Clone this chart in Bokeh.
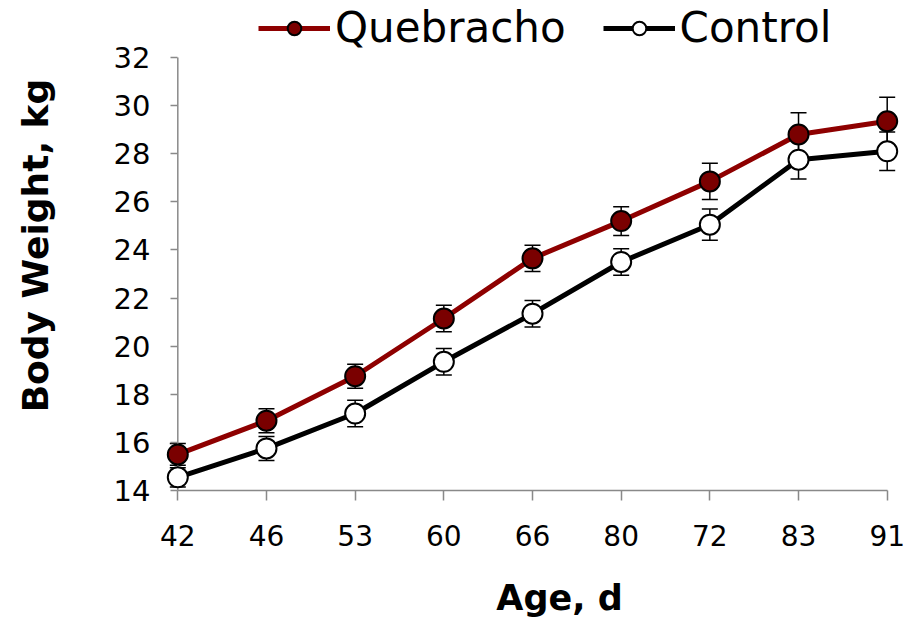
from bokeh.plotting import figure
from bokeh.layouts import column
from bokeh.models import (Range1d, FixedTicker, ColumnDataSource, Whisker, TeeHead,
                          Legend, LegendItem, Label)
from bokeh.embed import file_html
from bokeh.resources import INLINE

# ---- data ----
ages = ["42", "46", "53", "60", "66", "80", "72", "83", "91"]
quebracho = [15.5, 16.9, 18.75, 21.15, 23.65, 25.2, 26.85, 28.8, 29.35]
quebracho_err = [0.45, 0.5, 0.5, 0.55, 0.55, 0.6, 0.75, 0.9, 1.0]
control = [14.55, 15.75, 17.2, 19.35, 21.35, 23.5, 25.05, 27.75, 28.1]
control_err = [0.4, 0.5, 0.55, 0.55, 0.55, 0.55, 0.65, 0.8, 0.8]
y_ticks = [14, 16, 18, 20, 22, 24, 26, 28, 30, 32]

idx = list(range(len(ages)))

Q_LINE = "#8e0000"
Q_FILL = "#7a0000"
AX = "#898989"
FONT = "DejaVu Sans"

# frame geometry (pixels): axis part is 433 px tall, 57 px of headroom above for the legend
AXIS_PX = 433
HEAD_PX = 57
y_top = y_ticks[-1] + HEAD_PX * (y_ticks[-1] - y_ticks[0]) / AXIS_PX

p = figure(width=916, height=565, output_backend="svg", toolbar_location=None,
           x_range=Range1d(-0.15, len(ages) - 1 + 0.15), y_range=Range1d(y_ticks[0], y_top),
           min_border_left=164, min_border_right=16, min_border_top=0, min_border_bottom=75)
p.outline_line_color = None
p.xgrid.visible = False
p.ygrid.visible = False
p.background_fill_color = "white"
p.border_fill_color = "white"

qsrc = ColumnDataSource(dict(x=idx, y=quebracho,
                             lo=[v - e for v, e in zip(quebracho, quebracho_err)],
                             hi=[v + e for v, e in zip(quebracho, quebracho_err)]))
csrc = ColumnDataSource(dict(x=idx, y=control,
                             lo=[v - e for v, e in zip(control, control_err)],
                             hi=[v + e for v, e in zip(control, control_err)]))

# value axis line at the first category, from the lowest to the highest tick
p.segment(x0=[idx[0]], y0=[y_ticks[0]], x1=[idx[0]], y1=[y_ticks[-1]],
          line_color=AX, line_width=1.5)

for src in (qsrc, csrc):
    w = Whisker(source=src, base="x", lower="lo", upper="hi", dimension="height",
                line_color="black", line_width=1.5, level="underlay",
                upper_head=TeeHead(size=16, line_color="black", line_width=1.5),
                lower_head=TeeHead(size=16, line_color="black", line_width=1.5))
    p.add_layout(w)

ql = p.line("x", "y", source=qsrc, line_color=Q_LINE, line_width=5)
cl = p.line("x", "y", source=csrc, line_color="black", line_width=5)
qm = p.scatter("x", "y", source=qsrc, size=20, fill_color=Q_FILL, line_color="black", line_width=2)
cm = p.scatter("x", "y", source=csrc, size=20, fill_color="white", line_color="black", line_width=2)

# x axis
xa = p.xaxis[0]
xa.ticker = FixedTicker(ticks=idx)
xa.major_label_overrides = {i: a for i, a in zip(idx, ages)}
xa.bounds = (idx[0], idx[-1])
xa.axis_line_color = AX
xa.axis_line_width = 1.5
xa.major_tick_line_color = AX
xa.major_tick_line_width = 1.5
xa.major_tick_in = 0
xa.major_tick_out = 10
xa.minor_tick_line_color = None
xa.major_label_text_font = FONT
xa.major_label_text_font_size = "28px"
xa.major_label_text_color = "black"
xa.major_label_standoff = 24

# y axis (line drawn by the segment at x = first category; ticks shifted onto it)
ya = p.yaxis[0]
ya.ticker = FixedTicker(ticks=y_ticks)
ya.axis_line_color = None
ya.major_tick_line_color = AX
ya.major_tick_line_width = 1.5
ya.major_tick_in = 13
ya.major_tick_out = -6
ya.minor_tick_line_color = None
ya.major_label_text_font = FONT
ya.major_label_text_font_size = "29px"
ya.major_label_text_color = "black"
ya.major_label_standoff = 14
ya.axis_label = "Body Weight, kg"
ya.axis_label_text_font = FONT
ya.axis_label_text_font_style = "bold"
ya.axis_label_text_font_size = "36px"
ya.axis_label_text_color = "black"
ya.axis_label_standoff = 55

legend = Legend(items=[LegendItem(label="Quebracho", renderers=[ql, qm]),
                       LegendItem(label="Control", renderers=[cl, cm])],
                location=(94, 438), orientation="horizontal",
                glyph_width=72, glyph_height=34, label_standoff=5, spacing=37,
                padding=0, margin=0, border_line_color=None, background_fill_alpha=0,
                label_text_font=FONT, label_text_font_size="42px", label_text_color="black")
p.add_layout(legend)

# strip below the chart carrying the category-axis title (its frame is aligned with the chart's)
t = figure(width=916, height=53, output_backend="svg", toolbar_location=None,
           x_axis_location=None, y_axis_location=None,
           x_range=Range1d(0, 1), y_range=Range1d(0, 1),
           min_border_left=0, min_border_right=0, min_border_top=0, min_border_bottom=0)
t.outline_line_color = None
t.xgrid.visible = False
t.ygrid.visible = False
t.add_layout(Label(x=395, y=21, x_units="screen", y_units="screen", text="Age, d",
                   text_font=FONT, text_font_style="bold", text_font_size="35px",
                   text_color="black", text_align="center", text_baseline="middle"))

layout = column(p, t, spacing=0)
open("out.html", "w").write(file_html(layout, INLINE))
